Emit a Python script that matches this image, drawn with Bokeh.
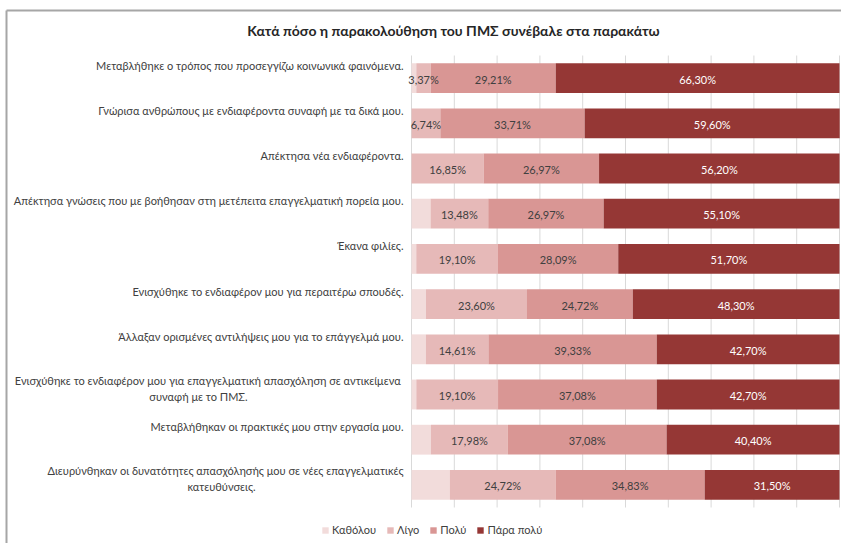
import numpy as np
from bokeh.plotting import figure
from bokeh.models import ColumnDataSource, Legend, LegendItem, Range1d
from bokeh.core.properties import value
from bokeh.embed import file_html
from bokeh.resources import INLINE

title_text = "Κατά πόσο η παρακολούθηση του ΠΜΣ συνέβαλε στα παρακάτω"

categories = [
    "Μεταβλήθηκε ο τρόπος που προσεγγίζω κοινωνικά φαινόμενα.",
    "Γνώρισα ανθρώπους με ενδιαφέροντα συναφή με τα δικά μου.",
    "Απέκτησα νέα ενδιαφέροντα.",
    "Απέκτησα γνώσεις που με βοήθησαν στη μετέπειτα επαγγελματική πορεία μου.",
    "Έκανα φιλίες.",
    "Ενισχύθηκε το ενδιαφέρον μου για περαιτέρω σπουδές.",
    "Άλλαξαν ορισμένες αντιλήψεις μου για το επάγγελμά μου.",
    "Ενισχύθηκε το  ενδιαφέρον μου για επαγγελματική απασχόληση σε αντικείμενα\nσυναφή με το ΠΜΣ.",
    "Μεταβλήθηκαν οι πρακτικές μου στην εργασία μου.",
    "Διευρύνθηκαν οι δυνατότητες απασχόλησής μου σε νέες επαγγελματικές\nκατευθύνσεις.",
]

series = ["Καθόλου", "Λίγο", "Πολύ", "Πάρα πολύ"]
katholou = [1.12, 0.0, 0.0, 4.45, 1.11, 3.38, 3.36, 1.12, 4.54, 8.95]
ligo = [3.37, 6.74, 16.85, 13.48, 19.10, 23.60, 14.61, 19.10, 17.98, 24.72]
poly = [29.21, 33.71, 26.97, 26.97, 28.09, 24.72, 39.33, 37.08, 37.08, 34.83]
para_poly = [66.30, 59.60, 56.20, 55.10, 51.70, 48.30, 42.70, 42.70, 40.40, 31.50]

x_ticks = [0, 10, 20, 30, 40, 50, 60, 70, 80, 90, 100]

# ---- styling / layout constants (pixels) ----
W, H = 841, 543
X0_PX, X100_PX = 411, 839          # where 0% and 100% sit
TOP_PX, BOT_PX = 55, 507           # plot-area top / bottom
colors = ["#F2DCDB", "#E6B9B8", "#D99694", "#953735"]
label_colors = ["#404040", "#404040", "#404040", "#FFFFFF"]
FONT = "Lato"
TXT = "#404040"

n = len(categories)
sx = (X100_PX - X0_PX) / 100.0
band = (BOT_PX - TOP_PX) / n
x_start, x_end = -X0_PX / sx, (W - X0_PX) / sx
y_end = n + 0.5 + TOP_PX / band
y_start = 0.5 - (H - BOT_PX) / band


def xd(px):
    return x_start + px / sx


def yd(py):
    return y_end - py / band


p = figure(width=W, height=H, output_backend="svg", toolbar_location=None,
           x_range=Range1d(x_start, x_end), y_range=Range1d(y_start, y_end),
           min_border=0)
p.outline_line_color = None
p.axis.visible = False
p.grid.visible = False
p.background_fill_color = "white"
p.border_fill_color = "white"

ypos = list(range(n, 0, -1))

# chart border (left + top)
p.segment(x0=[xd(6), xd(6)], y0=[yd(10), yd(10)], x1=[xd(6), x_end], y1=[y_start, yd(10)],
          line_color="#A6A6A6", line_width=2)

# vertical gridlines
p.segment(x0=x_ticks, x1=x_ticks, y0=[0.5] * len(x_ticks), y1=[n + 0.5] * len(x_ticks),
          line_color="#D9D9D9", line_width=1)

src = ColumnDataSource(dict(y=ypos, k0=katholou, k1=ligo, k2=poly, k3=para_poly))
keys = ["k0", "k1", "k2", "k3"]
rs = p.hbar_stack(keys, y="y", height=0.66, fill_color=colors,
                  line_color=None, source=src)

# data labels (all but "Καθόλου")
arr = np.array([katholou, ligo, poly, para_poly])
lefts = np.vstack([np.zeros(n), np.cumsum(arr, axis=0)[:-1]])
for i in (1, 2, 3):
    mids = lefts[i] + arr[i] / 2
    texts = [f"{v:.2f}".replace(".", ",") + "%" for v in arr[i]]
    p.text(x=mids, y=ypos, text=texts, text_align="center", text_baseline="middle",
           text_font=value(FONT), text_font_size="11px", text_color=label_colors[i],
           y_offset=1)

# category labels
r_x, r_y, r_t, r_off = [], [], [], []
c_x, c_y, c_t, c_xo, c_off = [], [], [], [], []
second_line_xo = [-213, -190]
k = 0
for cat, yv in zip(categories, ypos):
    lines = cat.split("\n")
    if len(lines) == 1:
        r_x.append(0); r_y.append(yv); r_t.append(cat); r_off.append(-13)
    else:
        r_x.append(0); r_y.append(yv); r_t.append(lines[0]); r_off.append(-14)
        c_x.append(0); c_y.append(yv); c_t.append(lines[1]); c_xo.append(second_line_xo[k]); c_off.append(2)
        k += 1
p.text(x="x", y="y", text="t", y_offset="o", x_offset=-8,
       source=ColumnDataSource(dict(x=r_x, y=r_y, t=r_t, o=r_off)),
       text_align="right", text_baseline="middle",
       text_font=value(FONT), text_font_size="11px", text_color=TXT)
p.text(x="x", y="y", text="t", y_offset="o", x_offset="xo",
       source=ColumnDataSource(dict(x=c_x, y=c_y, t=c_t, o=c_off, xo=c_xo)),
       text_align="center", text_baseline="middle",
       text_font=value(FONT), text_font_size="11px", text_color=TXT)

# title
p.text(x=[xd(453)], y=[yd(30)], text=[title_text], text_align="center",
       text_baseline="middle", text_font=value(FONT), text_font_size="14px",
       text_font_style="bold", text_color="#262626")

legend = Legend(items=[LegendItem(label=s, renderers=[r]) for s, r in zip(series, rs)],
                location=(321, 7), orientation="horizontal",
                glyph_width=8, glyph_height=8, label_text_font=FONT,
                label_text_font_size="11px", label_text_color=TXT,
                spacing=10, padding=0, margin=0, label_standoff=3,
                label_height=11, border_line_color=None, background_fill_alpha=0)
p.add_layout(legend)

open("out.html", "w").write(file_html(p, INLINE))
